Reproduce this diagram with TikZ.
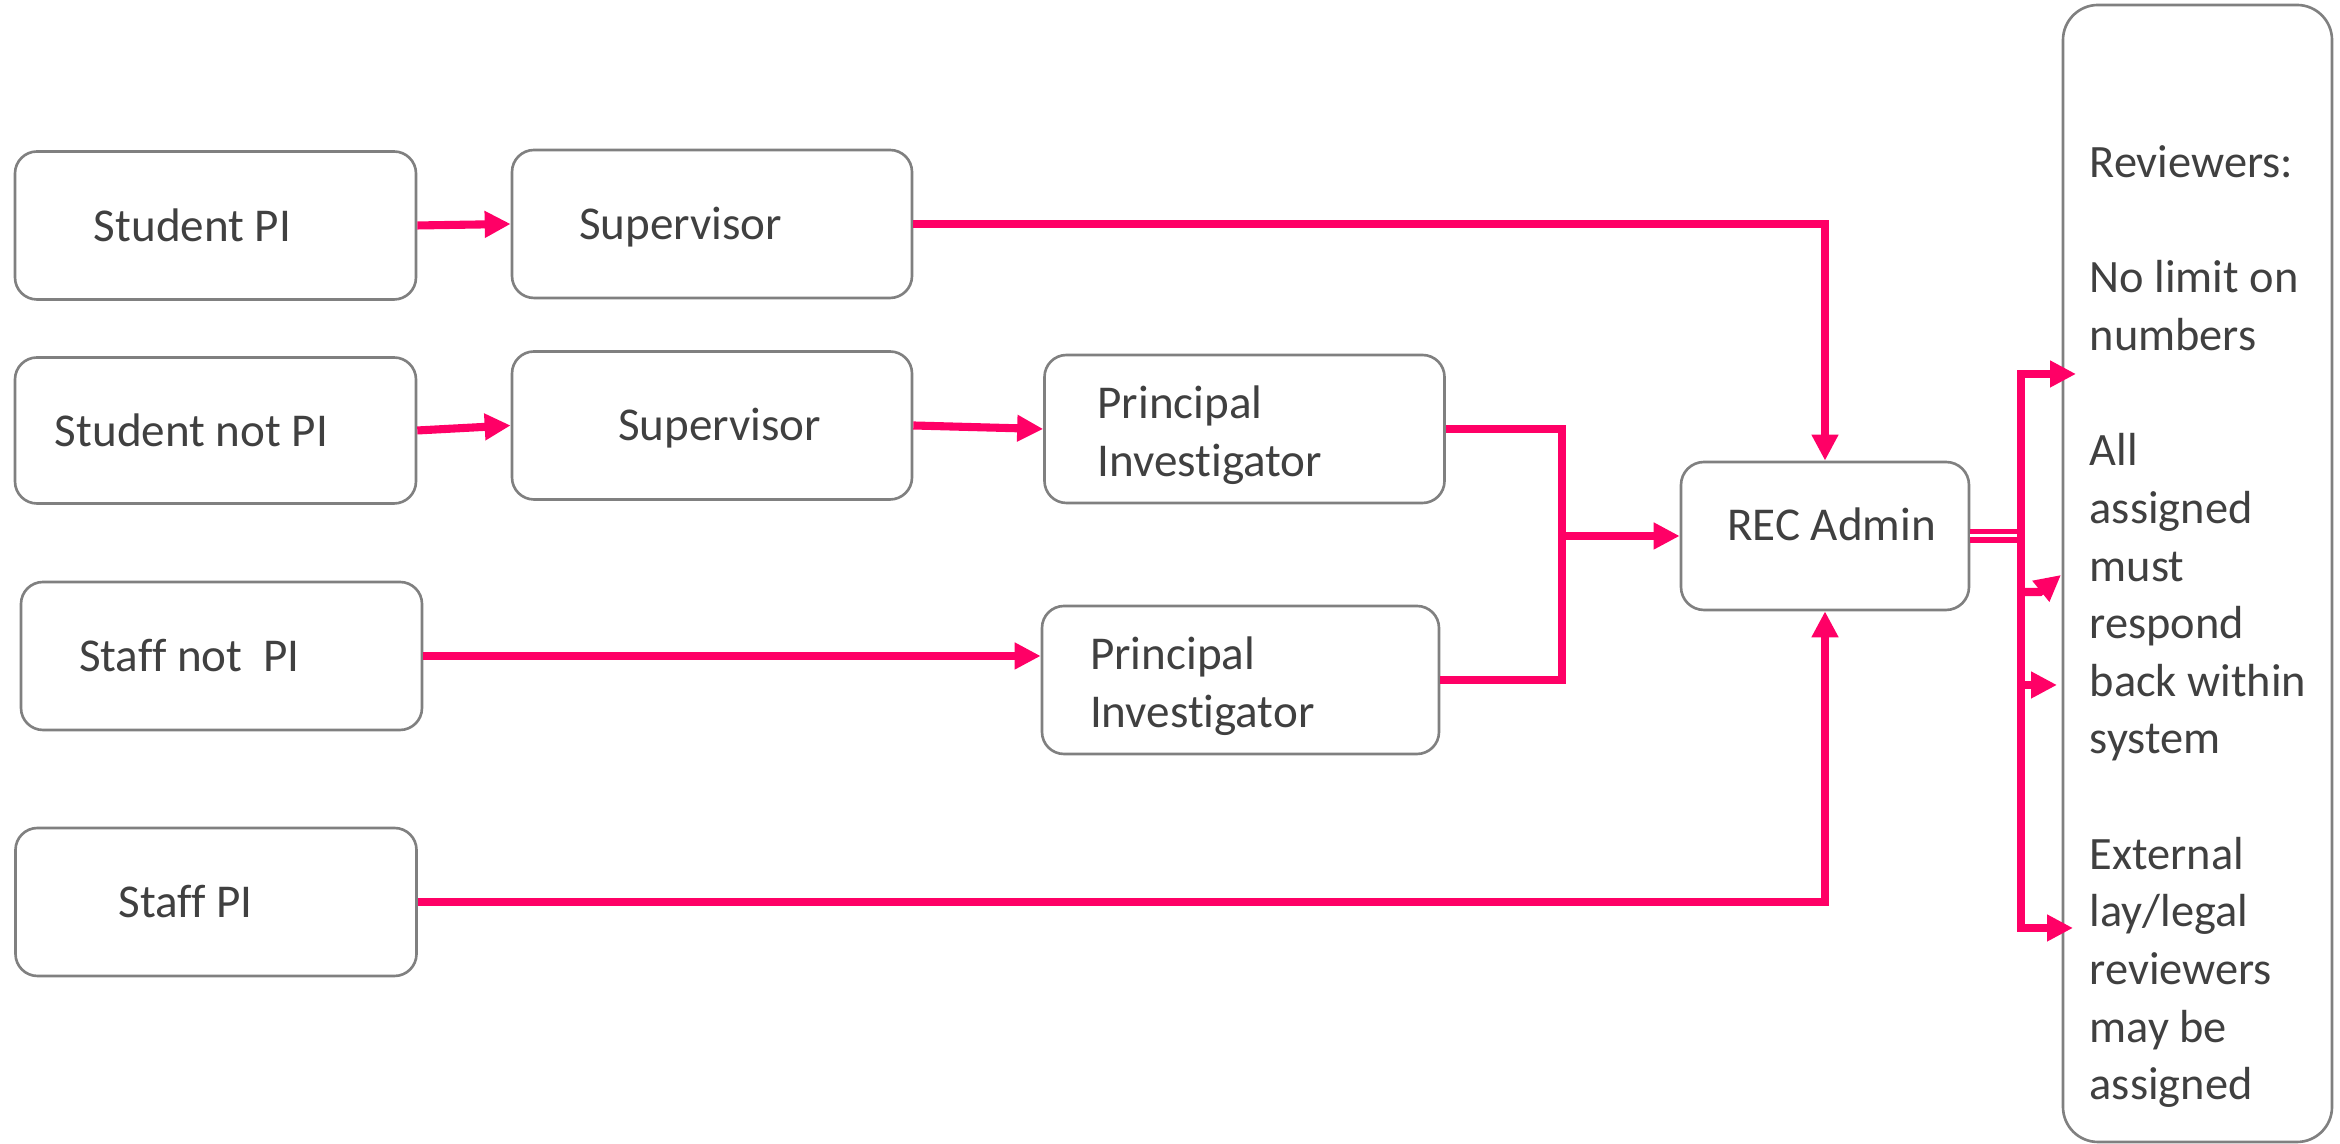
\documentclass[tikz,border=0pt]{standalone}
\usepackage{fontspec}
\setmainfont{Carlito}[Ligatures=CommonOff]
\usetikzlibrary{arrows.meta}
\definecolor{recpink}{RGB}{255,0,102}
\definecolor{boxgray}{RGB}{128,128,128}
\definecolor{textgray}{RGB}{64,64,64}

\begin{document}
\begin{tikzpicture}
[box/.style={draw=boxgray,line width=0.75pt,rounded corners=0.22cm,minimum width=4.01cm,minimum height=1.48cm,
text width=4.01cm,inner xsep=0pt,align=flush left,text=textgray,font=\fontsize{13.4}{16.5}\selectfont},
flow/.style={draw=recpink,line width=2.3pt,-{Triangle[width=7.2pt,length=7.4pt]}},
link/.style={draw=recpink,line width=2.3pt}]
\useasboundingbox (0,0) rectangle (23.4,11.44);
\node (stpi) at (2.155,9.185) [box] {\hspace*{0.79cm}Student PI};
\node (supa) at (7.12,9.2) [box,minimum width=4cm,text width=4cm,text depth=0.02cm] {\hspace*{0.67cm}Supervisor};
\node (stnpi) at (2.155,7.135) [box,minimum height=1.46cm] {\hspace*{0.4cm}Student not PI};
\node (supb) at (7.12,7.185) [box,minimum width=4cm,text width=4cm,text depth=0.02cm] {\hspace*{1.06cm}Supervisor};
\node (pia) at (12.445,7.15) [box,minimum width=4cm,text width=4cm,text height=0.46cm] {\hspace*{0.53cm}Principal\\\hspace*{0.53cm}Investigator};
\node (stfnpi) at (2.215,4.88) [box] {\hspace*{0.58cm}Staff not\ \ PI};
\node (pib) at (12.405,4.64) [box,minimum width=3.97cm,text width=3.97cm,text height=0.46cm] {\hspace*{0.48cm}Principal\\\hspace*{0.48cm}Investigator};
\node (stfpi) at (2.16,2.42) [box] {\hspace*{1.03cm}Staff PI};
\node (rec) at (18.25,6.08) [box,minimum width=2.88cm,text width=2.88cm,text depth=0.24cm,rounded corners=0.23cm] {\hspace*{0.46cm}REC Admin};
\node (rev) at (21.975,5.705) [box,minimum width=2.69cm,text width=2.69cm,minimum height=11.37cm,rounded corners=0.35cm] {};
\node (revtext) at (20.89,9.99) [anchor=north west,inner sep=0pt,align=left,text=textgray,font=\fontsize{13.2}{16.4}\selectfont]
{Reviewers:\\[16.4pt]No limit on\\numbers\\[16.4pt]All\\assigned\\must\\respond\\back within\\system\\[16.4pt]External\\lay/legal\\reviewers\\may be\\assigned};
\coordinate (join) at (15.62,6.08);
\coordinate (fork) at (20.21,6.08);
\coordinate (ra) at (20.76,7.7);
\coordinate (kink) at (20.4,5.52);
\coordinate (rb) at (20.61,5.69);
\coordinate (rc) at (20.57,4.59);
\coordinate (rd) at (20.73,2.16);
\draw[flow] (stpi.east) -- (supa.west);
\draw[flow] (supa.east) -| (rec.north);
\draw[flow] (stnpi.east) -- (supb.west);
\draw[flow] (supb.east) -- (pia.west);
\draw[link] (pia.east) -| (join);
\draw[link] (pib.east) -| (join);
\draw[flow] (join) -- (rec.west);
\draw[flow] (stfnpi.east) -- (stfnpi.east -| pib.west);
\draw[flow] (stfpi.east) -| (rec.south);
\draw[recpink,line width=1.55pt,double=white,double distance=0.85pt] (rec.east) -- (fork);
\draw[flow] (fork) |- (ra);
\draw[flow] (fork) |- (rd);
\draw[flow] (fork |- kink) -- (kink) -- (rb);
\draw[flow] (fork |- rc) -- (rc);
\end{tikzpicture}
\end{document}
